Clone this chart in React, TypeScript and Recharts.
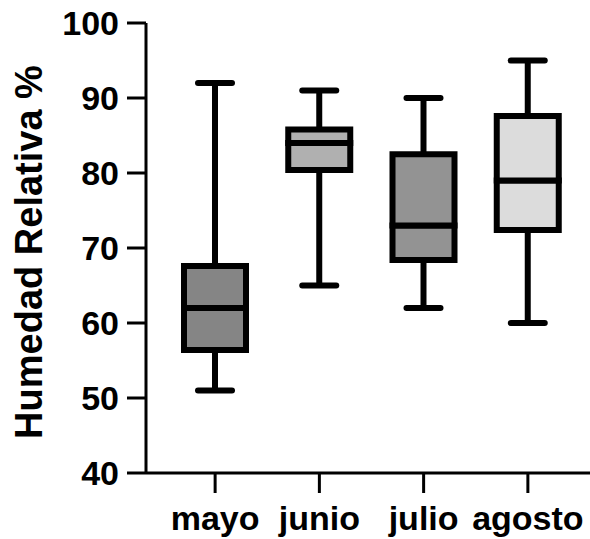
import { ComposedChart, Bar, XAxis, YAxis, Label } from 'recharts';

// monthly relative humidity, box-and-whisker values
const months = ['mayo', 'junio', 'julio', 'agosto'];
const mins = [51, 65, 62, 60];
const q1s = [56.4, 80.4, 68.4, 72.4];
const medians = [62, 84, 73, 79];
const q3s = [67.6, 85.8, 82.5, 87.6];
const maxs = [92, 91, 90, 95];
const boxFills = ['#858585', '#b0b0b0', '#939393', '#dcdcdc'];
const yTicks = [40, 50, 60, 70, 80, 90, 100];

const data = months.map((name, i) => ({
    name,
    base: mins[i],
    lowWhisker: q1s[i] - mins[i],
    lowBox: medians[i] - q1s[i],
    highBox: q3s[i] - medians[i],
    highWhisker: maxs[i] - q3s[i],
    fill: boxFills[i],
}));

const FONT = '"Liberation Sans", Arial, sans-serif';
const STROKE = 6;
const CAP = 17;

const Empty = () => <g />;

const LowWhisker = (props: any) => {
    const { x, y, width, height } = props;
    const cx = x + width / 2;
    return (
        <g>
            <line x1={cx} y1={y} x2={cx} y2={y + height} stroke="#000" strokeWidth={STROKE} />
            <line x1={cx - CAP} y1={y + height} x2={cx + CAP} y2={y + height} stroke="#000" strokeWidth={STROKE} strokeLinecap="round" />
        </g>
    );
};

const HighWhisker = (props: any) => {
    const { x, y, width, height } = props;
    const cx = x + width / 2;
    return (
        <g>
            <line x1={cx} y1={y} x2={cx} y2={y + height} stroke="#000" strokeWidth={STROKE} />
            <line x1={cx - CAP} y1={y} x2={cx + CAP} y2={y} stroke="#000" strokeWidth={STROKE} strokeLinecap="round" />
        </g>
    );
};

const BoxPart = (props: any) => {
    const { x, y, width, height, payload } = props;
    return <rect x={x} y={y} width={width} height={height} fill={payload.fill} stroke="#000" strokeWidth={STROKE} />;
};

const renderYLabel = (props: any) => {
    const { viewBox } = props;
    const lx = viewBox.x + 42;
    const ly = viewBox.y + viewBox.height / 2 + 4;
    return (
        <text
            x={lx}
            y={ly}
            transform={`rotate(-90, ${lx}, ${ly})`}
            textAnchor="middle"
            fontFamily={FONT}
            fontWeight="bold"
            fontSize={38}
            fill="#000"
        >
            Humedad Relativa %
        </text>
    );
};

export default function App() {
    const tickStyle = { fontSize: 34, fontWeight: 'bold', fill: '#000', fontFamily: FONT };
    return (
        <div style={{ position: 'absolute', left: 0, top: 0, background: '#fff' }}>
            <ComposedChart width={590} height={539} data={data} margin={{ top: 23, right: 0, bottom: 0, left: 0 }}>
                <XAxis
                    dataKey="name"
                    height={66}
                    padding={{ left: 17, right: 10 }}
                    axisLine={{ stroke: '#000', strokeWidth: 3 }}
                    tickLine={{ stroke: '#000', strokeWidth: 3 }}
                    tickSize={20}
                    tickMargin={13}
                    tick={tickStyle}
                    interval={0}
                />
                <YAxis
                    type="number"
                    domain={[40, 100]}
                    allowDataOverflow
                    ticks={yTicks}
                    width={146}
                    axisLine={{ stroke: '#000', strokeWidth: 3 }}
                    tickLine={{ stroke: '#000', strokeWidth: 3 }}
                    tickSize={19}
                    tickMargin={8}
                    tick={tickStyle}
                    interval={0}
                >
                    <Label content={renderYLabel} />
                </YAxis>
                <Bar dataKey="base" stackId="box" barSize={62} shape={Empty} isAnimationActive={false} />
                <Bar dataKey="lowWhisker" stackId="box" barSize={62} shape={LowWhisker} isAnimationActive={false} />
                <Bar dataKey="lowBox" stackId="box" barSize={62} shape={BoxPart} isAnimationActive={false} />
                <Bar dataKey="highBox" stackId="box" barSize={62} shape={BoxPart} isAnimationActive={false} />
                <Bar dataKey="highWhisker" stackId="box" barSize={62} shape={HighWhisker} isAnimationActive={false} />
            </ComposedChart>
        </div>
    );
}
